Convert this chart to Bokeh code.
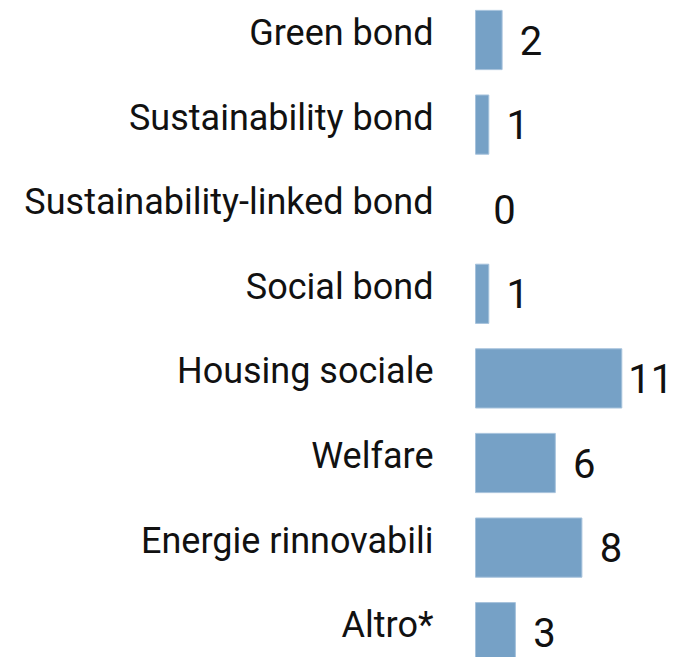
from bokeh.plotting import figure
from bokeh.models import ColumnDataSource, Range1d
from bokeh.core.properties import value
from bokeh.embed import file_html
from bokeh.resources import INLINE

categories = ["Green bond", "Sustainability bond", "Sustainability-linked bond",
              "Social bond", "Housing sociale", "Welfare", "Energie rinnovabili", "Altro*"]
counts = [2, 1, 0, 1, 11, 6, 8, 3]

src = ColumnDataSource(dict(
    y=list(range(len(categories))),
    cat=categories,
    val=counts,
    lbl=[str(v) for v in counts],
    zero=[0] * len(categories),
    edge=[1.0 if v > 0 else 0.0 for v in counts],
))

FONT = "Roboto"
W, H = 674, 657
px_per_unit = 13.3
bar_x0 = 475
pitch = 84.6
top_center = 39.5

p = figure(width=W, height=H, output_backend="svg", toolbar_location=None,
           x_range=Range1d(-bar_x0 / px_per_unit, (W - bar_x0) / px_per_unit),
           y_range=Range1d((H - top_center) / pitch, -top_center / pitch),
           min_border=0, min_border_left=0, min_border_right=0,
           min_border_top=0, min_border_bottom=0)
p.axis.visible = False
p.grid.visible = False
p.outline_line_color = None
p.background_fill_color = "white"
p.border_fill_color = "white"

p.hbar(y="y", left=0, right="val", height=0.7, source=src,
       fill_color="#76a1c6", line_color="#a6c2dc", line_alpha="edge", line_width=1)

p.text(x="zero", y="y", text="cat", source=src, text_align="right",
       text_baseline="alphabetic", x_offset=-42, y_offset=-7,
       text_font=value(FONT), text_font_size="36px", text_color="#111111")

p.text(x="val", y="y", text="lbl", source=src, text_align="center",
       text_baseline="alphabetic", x_offset=29, y_offset=0,
       text_font=value(FONT), text_font_size="40px", text_color="#111111")

open("out.html", "w").write(file_html(p, INLINE))
